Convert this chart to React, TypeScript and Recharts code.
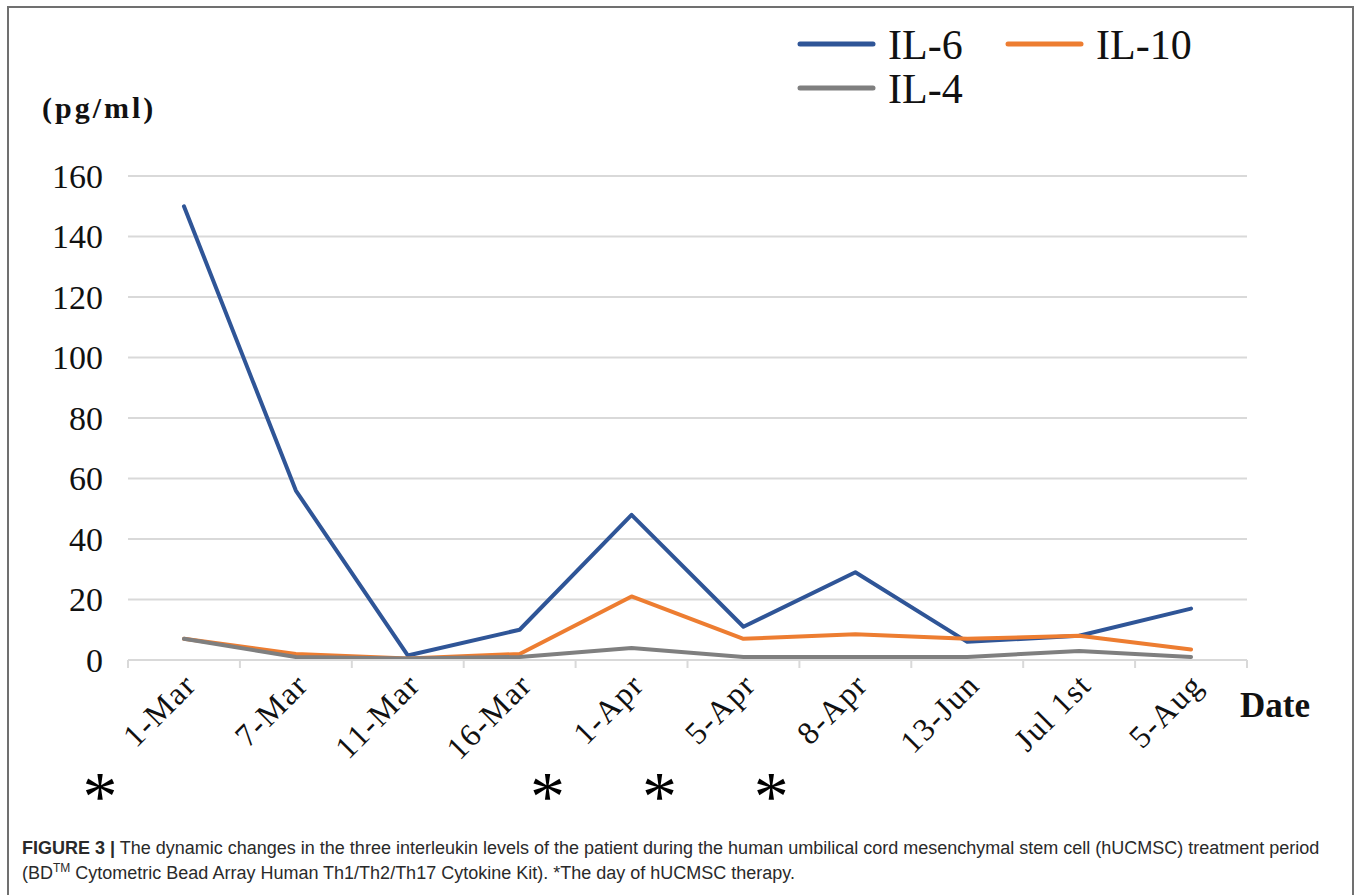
import React from 'react';
import { LineChart, Line, XAxis, YAxis, CartesianGrid } from 'recharts';

const categories = ['1-Mar', '7-Mar', '11-Mar', '16-Mar', '1-Apr', '5-Apr', '8-Apr', '13-Jun', 'Jul 1st', '5-Aug'];
const therapyDays = [true, false, false, false, true, true, true, false, false, false];
const il6 = [150, 56, 1.5, 10, 48, 11, 29, 6, 8, 17];
const il10 = [7, 2, 0.5, 2, 21, 7, 8.5, 7, 8, 3.5];
const il4 = [7, 1, 0.5, 1, 4, 1, 1, 1, 3, 1];
const yTicks = [0, 20, 40, 60, 80, 100, 120, 140, 160];

const series = [
  { key: 'il6', name: 'IL-6', color: '#2f5597' },
  { key: 'il10', name: 'IL-10', color: '#ed7d31' },
  { key: 'il4', name: 'IL-4', color: '#7f7f7f' },
];

const data = categories.map((c, i) => ({ pos: i + 0.5, label: c, star: therapyDays[i], il6: il6[i], il10: il10[i], il4: il4[i] }));
const xTicks: number[] = [];
for (let i = 0; i <= categories.length; i++) xTicks.push(i);
for (let i = 0; i < categories.length; i++) xTicks.push(i + 0.5);
xTicks.sort((a, b) => a - b);

const SERIF = '"Liberation Serif", "Times New Roman", serif';
const GRID = '#d9d9d9';

const XTick = (props: any) => {
  const { x, y, payload } = props;
  const v = payload.value;
  if (Number.isInteger(v)) {
    return <line x1={x} x2={x} y1={y} y2={y + 8} stroke={GRID} strokeWidth={2} />;
  }
  const idx = Math.round(v - 0.5);
  const ax = x + 14;
  const ay = y + 27;
  return (
    <g>
      <text x={ax} y={ay} textAnchor="end" transform={`rotate(-45, ${ax}, ${ay})`} fontSize={32} letterSpacing={1.5} fontFamily={SERIF} fill="#111">
        {categories[idx]}
      </text>
      {therapyDays[idx] ? (
        <text x={x - 84} y={y + 160} textAnchor="middle" fontSize={70} fontFamily={SERIF} fill="#000">*</text>
      ) : null}
    </g>
  );
};

const YTick = (props: any) => {
  const { x, y, payload } = props;
  return (
    <text x={x} y={y} dy="0.35em" textAnchor="end" fontSize={34} fontFamily={SERIF} fill="#111">
      {payload.value}
    </text>
  );
};

export default function App() {
  return (
    <div style={{ position: 'absolute', left: 0, top: 0, width: 1357, height: 895, background: '#fff', overflow: 'hidden' }}>
      <div style={{ position: 'absolute', left: 7, top: 6, width: 1347, height: 900, border: '2px solid #707070', borderBottom: 'none', boxSizing: 'border-box' }} />
      <div style={{ position: 'absolute', left: 0, top: 0 }}>
        <LineChart width={1357} height={880} data={data} margin={{ top: 176, right: 110, bottom: 0, left: 0 }}>
          <CartesianGrid vertical={false} stroke={GRID} strokeWidth={2} />
          <XAxis
            type="number"
            dataKey="pos"
            domain={[0, categories.length]}
            ticks={xTicks}
            interval={0}
            height={220}
            tickLine={false}
            tickSize={0}
            tickMargin={0}
            axisLine={{ stroke: GRID, strokeWidth: 2 }}
            tick={<XTick />}
          />
          <YAxis
            domain={[0, 160]}
            ticks={yTicks}
            interval={0}
            width={128}
            axisLine={false}
            tickLine={false}
            tickSize={0}
            tickMargin={25}
            tick={<YTick />}
          />
          {series.map((s) => (
            <Line
              key={s.key}
              type="linear"
              dataKey={s.key}
              name={s.name}
              stroke={s.color}
              strokeWidth={4}
              dot={false}
              activeDot={false}
              strokeLinecap="round"
              strokeLinejoin="round"
              isAnimationActive={false}
            />
          ))}
        </LineChart>
      </div>
      <svg width={1357} height={830} style={{ position: 'absolute', left: 0, top: 0, pointerEvents: 'none' }}>
        <text x={42} y={118} fontSize={30} fontWeight="bold" fontFamily={SERIF} letterSpacing={3} fill="#111">(pg/ml)</text>
        <text x={1240} y={717} fontSize={35} fontWeight="bold" fontFamily={SERIF} fill="#111">Date</text>
        {series.map((s, i) => {
          const col = i === 1 ? 1 : 0;
          const row = i === 2 ? 1 : 0;
          const lx = 800 + col * 208;
          const ly = 44 + row * 44;
          return (
            <g key={s.key}>
              <line x1={lx} x2={lx + 73} y1={ly} y2={ly} stroke={s.color} strokeWidth={5} strokeLinecap="round" />
              <text x={lx + 88} y={ly + 15} fontSize={42} fontFamily={SERIF} fill="#111">{s.name}</text>
            </g>
          );
        })}
      </svg>
      <div style={{ position: 'absolute', left: 22, top: 836, width: 1330, fontFamily: '"Liberation Sans", Arial, sans-serif', fontSize: 18, lineHeight: '25px', color: '#2a2a2a', whiteSpace: 'nowrap' }}>
        <div><b>FIGURE 3 |</b> The dynamic changes in the three interleukin levels of the patient during the human umbilical cord mesenchymal stem cell (hUCMSC) treatment period</div>
        <div>(BD<sup style={{ fontSize: 12, lineHeight: 0 }}>TM</sup> Cytometric Bead Array Human Th1/Th2/Th17 Cytokine Kit). *The day of hUCMSC therapy.</div>
      </div>
    </div>
  );
}
